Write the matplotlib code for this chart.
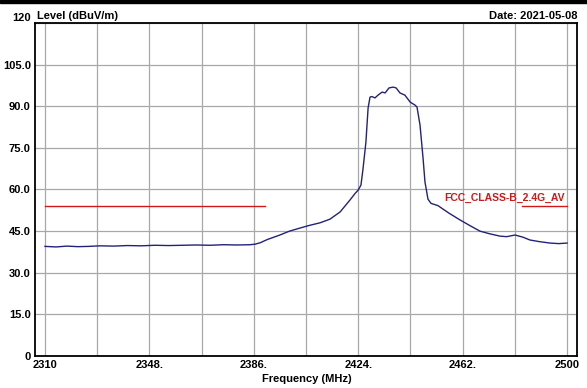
import matplotlib
matplotlib.use('Agg')
import matplotlib.pyplot as plt
import numpy as np

plt.rcParams['font.family'] = ['Liberation Sans', 'DejaVu Sans']

# trace (MHz, dBuV/m)
freq = [2310, 2314, 2318, 2322, 2326, 2330, 2335, 2340, 2345, 2350,
        2355, 2360, 2365, 2370, 2375, 2380, 2384.6, 2386.5, 2388.3,
        2391, 2395.5, 2399, 2402.8, 2406, 2410.1, 2413.7, 2417.4,
        2421, 2422.8, 2424, 2425.0, 2425.7, 2426.8, 2427.6, 2428.3,
        2429.0, 2430.1, 2431.2, 2432.7, 2433.8, 2435.2, 2436.7, 2437.8,
        2439.2, 2441.0, 2442.9, 2444.7, 2445.4, 2446.5, 2447.6, 2448.3,
        2449.4, 2450.5, 2453.0, 2457, 2461.1, 2465, 2468.3, 2472,
        2475.6, 2478, 2481.1, 2484, 2486.5, 2490, 2493.8, 2497, 2500]
level = [39.5, 39.3, 39.6, 39.4, 39.5, 39.7, 39.6, 39.8, 39.7, 39.9,
         39.8, 39.9, 40.0, 39.9, 40.1, 40.0, 40.1, 40.3, 40.8,
         42.0, 43.6, 45.0, 46.1, 47.0, 48.0, 49.3, 51.9,
         56.2, 58.5, 59.8, 61.6, 67.0, 77.0, 89.4, 93.3,
         93.5, 93.0, 94.0, 95.1, 94.8, 96.6, 96.9, 96.6,
         94.8, 94.0, 91.5, 90.4, 89.7, 83.2, 71.3, 62.7,
         56.5, 55.0, 54.2, 51.5, 49.0, 46.8, 45.0, 44.0,
         43.2, 43.0, 43.6, 42.8, 41.8, 41.2, 40.7, 40.5, 40.7]

# FCC limit (AV) segments
limit_level = 54
limit_bands = [(2310, 2390), (2483.5, 2500)]

x_grid = np.arange(2310, 2501, 19)
x_labels = ['2310', '', '2348.', '', '2386.', '', '2424.', '', '2462.', '', '2500']
y_ticks = [0, 15, 30, 45, 60, 75, 90, 105, 120]
y_labels = ['0', '15.0', '30.0', '45.0', '60.0', '75.0', '90.0', '105.0', '120']

fig = plt.figure(figsize=(5.87, 3.88), dpi=100)
fig.patches.append(plt.Rectangle((0, 0.992), 1, 0.008, transform=fig.transFigure,
                                 color='black', zorder=0))
ax = fig.add_axes([0.0596, 0.0825, 0.9234, 0.8582])

pad = 19 * 10 / 52.2
ax.set_xlim(2310 - pad, 2500 + pad)
ax.set_ylim(0, 120)

ax.set_xticks(x_grid)
ax.set_xticklabels(x_labels, fontsize=8, fontweight='bold')
ax.set_yticks(y_ticks)
ax.set_yticklabels(y_labels, fontsize=8, fontweight='bold')
ax.get_yticklabels()[-1].set_va('bottom')
ax.tick_params(length=0, pad=3)
ax.grid(True, color='#a8a8a8', linewidth=0.9)
for s in ax.spines.values():
    s.set_linewidth(1.3)

ax.plot(freq, level, color='#22227a', linewidth=1.0, zorder=3)
for lo, hi in limit_bands:
    ax.plot([lo, hi], [limit_level, limit_level], color='#d01818', linewidth=1.0, zorder=3)
ax.text(2499, limit_level + 1.2, 'FCC_CLASS-B_2.4G_AV', color='#d01818',
        fontsize=7.5, fontweight='bold', ha='right', va='bottom', zorder=4)

fig.text(0.063, 0.945, 'Level (dBuV/m)', fontsize=8, fontweight='bold',
         ha='left', va='bottom')
fig.text(0.983, 0.945, 'Date: 2021-05-08', fontsize=8, fontweight='bold',
         ha='right', va='bottom')
fig.text(0.523, 0.01, 'Frequency (MHz)', fontsize=8, fontweight='bold',
         ha='center', va='bottom')

fig.savefig('out.png', dpi=100)
